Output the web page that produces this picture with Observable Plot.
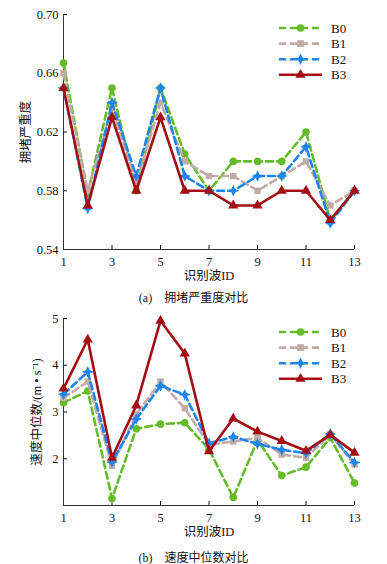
<!DOCTYPE html>
<html><head><meta charset="utf-8">
<script src="https://cdn.jsdelivr.net/npm/d3@7"></script>
<script src="https://cdn.jsdelivr.net/npm/@observablehq/plot@0.6"></script>
<style>
body{margin:0;background:#fff;}
#wrap{position:relative;width:387px;height:564px;font-family:"Liberation Serif","DejaVu Serif","Noto Sans CJK SC",serif;}
.abs{position:absolute;}
.cap{position:absolute;left:0;width:387px;text-align:center;font-size:12px;color:#111;z-index:5;font-family:"Liberation Serif","Noto Sans CJK SC",serif;}
svg text{font-family:"Liberation Serif","Noto Sans CJK SC",serif;}
</style></head>
<body><div id="wrap"></div>
<script>
const ids = [1,2,3,4,5,6,7,8,9,10,11,12,13];
const seriesNames = ["B0","B1","B2","B3"];
const seriesColors = ["#64bc28","#c2aba7","#1e84ee","#a30e14"];
const congestionB0 = [0.667,0.578,0.650,0.580,0.650,0.605,0.580,0.600,0.600,0.600,0.620,0.560,0.580];
const congestionB1 = [0.660,0.580,0.636,0.585,0.640,0.600,0.590,0.590,0.580,0.590,0.600,0.570,0.580];
const congestionB2 = [0.650,0.568,0.640,0.590,0.650,0.590,0.580,0.580,0.590,0.590,0.610,0.558,0.580];
const congestionB3 = [0.650,0.570,0.630,0.580,0.630,0.580,0.580,0.570,0.570,0.580,0.580,0.560,0.580];
const speedB0 = [3.20,3.45,1.15,2.64,2.74,2.77,2.20,1.17,2.40,1.64,1.82,2.45,1.48];
const speedB1 = [3.30,3.65,1.85,2.95,3.65,3.08,2.30,2.37,2.45,2.09,2.02,2.52,1.88];
const speedB2 = [3.38,3.86,1.93,2.85,3.56,3.37,2.33,2.47,2.32,2.19,2.12,2.53,1.92];
const speedB3 = [3.50,4.55,2.02,3.14,4.95,4.25,2.16,2.86,2.58,2.38,2.17,2.51,2.13];
const congestionTicks = [0.54,0.58,0.62,0.66,0.70];
const speedTicks = [2,3,4,5];
const xTicks = [1,3,5,7,9,11,13];

const sparkle = {draw(ctx, size){const r=Math.sqrt(size)*0.78,i=r*0.32;
  ctx.moveTo(0,-r);ctx.lineTo(i,-i);ctx.lineTo(r,0);ctx.lineTo(i,i);ctx.lineTo(0,r);ctx.lineTo(-i,i);ctx.lineTo(-r,0);ctx.lineTo(-i,-i);ctx.closePath();}};
const symbols = ["circle","square",sparkle,"triangle"];
const dashes = ["7,4","7,4","7,4",null];
const FONT = '"Liberation Serif","Noto Sans CJK SC",serif';

function build(arrays, opts){
  const marks = [];
  arrays.forEach((vals,k)=>{
    const data = ids.map((id,j)=>({id, v: vals[j]}));
    marks.push(Plot.line(data,{x:"id",y:"v",stroke:seriesColors[k],strokeWidth:2.6,strokeDasharray:dashes[k]}));
    marks.push(Plot.dot(data,{x:"id",y:"v",fill:seriesColors[k],stroke:"none",r:k===1?3.6:(k===2?4.2:3.8),symbol:symbols[k]}));
  });
  return Plot.plot({
    width:387, height:opts.height,
    marginLeft:63, marginRight:33, marginTop:opts.mt, marginBottom:opts.mb,
    style:{fontFamily:FONT,fontSize:"12.5px",color:"#111",background:"transparent",overflow:"visible"},
    x:{domain:[1,13]},
    y:{domain:opts.domain},
    marks:[
      Plot.axisX({ticks:xTicks,tickSize:-4,tickPadding:12,label:"识别波ID",labelAnchor:"center",labelArrow:"none",labelOffset:30,fontSize:12.5}),
      Plot.axisY({ticks:opts.ticks,tickFormat:opts.fmt,tickSize:-4,tickPadding:9,label:opts.ylabel,labelAnchor:"center",labelArrow:"none",labelOffset:opts.lo,fontSize:12.5}),
      Plot.ruleY([opts.domain[0]],{stroke:"#333",strokeWidth:1}),
      Plot.ruleX([1],{stroke:"#333",strokeWidth:1}),
      ...marks
    ]
  });
}

function legend(container, top){
  const svg = d3.select(container).append("svg").attr("class","abs")
    .style("left","272px").style("top",top+"px").attr("width",90).attr("height",66);
  seriesNames.forEach((n,k)=>{
    const y = 8 + k*15.6;
    svg.append("line").attr("x1",7).attr("x2",50).attr("y1",y).attr("y2",y)
      .attr("stroke",seriesColors[k]).attr("stroke-width",2.6).attr("stroke-dasharray",dashes[k]);
    const s = d3.symbol(typeof symbols[k]==="string"? {circle:d3.symbolCircle,square:d3.symbolSquare,triangle:d3.symbolTriangle}[symbols[k]] : symbols[k], (k===2?4.2:3.8)**2*Math.PI);
    svg.append("path").attr("d",s()).attr("transform",`translate(28.5,${y})`).attr("fill",seriesColors[k]);
    svg.append("text").attr("x",59).attr("y",y+4.5).text(n)
      .attr("font-family",FONT).attr("font-size",13).attr("fill","#111");
  });
}

const wrap = document.getElementById("wrap");
const a = build([congestionB0,congestionB1,congestionB2,congestionB3],
  {height:285, mt:14, mb:36, domain:[0.54,0.70], ticks:congestionTicks, fmt:d3.format(".2f"), ylabel:"拥堵严重度", lo:42});
a.classList.add("abs"); a.style.top="0px"; a.style.left="0px";
wrap.appendChild(a);
legend(wrap, 20);

const b = build([speedB0,speedB1,speedB2,speedB3],
  {height:241, mt:18, mb:36, domain:[1,5], ticks:speedTicks, fmt:d3.format("d"), ylabel:"速度中位数/(m • s⁻¹)", lo:31});
b.classList.add("abs"); b.style.top="300px"; b.style.left="0px";
wrap.appendChild(b);
legend(wrap, 324);

const capA = document.createElement("div"); capA.className="cap"; capA.style.top="288px";
capA.textContent = "(a)\u2003拥堵严重度对比"; wrap.appendChild(capA);
const capB = document.createElement("div"); capB.className="cap"; capB.style.top="548px";
capB.textContent = "(b)\u2003速度中位数对比"; wrap.appendChild(capB);
</script></body></html>
